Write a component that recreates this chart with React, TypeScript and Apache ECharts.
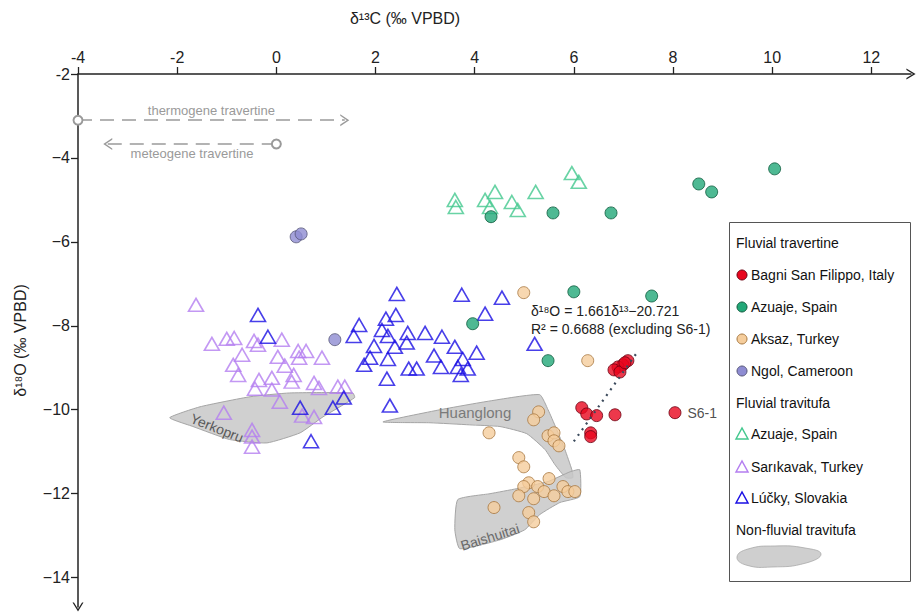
import React, { useEffect, useRef } from 'react';
import * as echarts from 'echarts';

const xTicks = [-4, -2, 0, 2, 4, 6, 8, 10, 12];
const yTicks = [-14, -12, -10, -8, -6, -4, -2];

// Fluvial travertine
const bagniSanFilippo = [
  [7.09, -8.83], [6.99, -8.93], [6.89, -8.98], [6.81, -9.05], [6.93, -9.1], [7.03, -8.88],
  [6.16, -9.95], [6.26, -10.1], [6.46, -10.14], [6.83, -10.12], [6.34, -10.55], [6.34, -10.64],
];
const bagniS61 = [8.04, -10.07];
const azuajeTravertine = [
  [4.33, -5.4], [5.58, -5.31], [6.75, -5.31], [8.52, -4.62], [8.78, -4.81], [10.05, -4.26],
  [6.0, -7.19], [7.57, -7.29], [3.96, -7.95], [5.48, -8.83],
];
const aksaz = [
  [4.99, -7.21], [6.28, -8.83], [5.29, -10.05], [5.19, -10.24], [4.29, -10.55], [5.48, -10.62],
  [5.6, -10.55], [5.6, -10.74], [5.7, -10.86], [4.89, -11.14], [4.99, -11.36], [5.5, -11.64],
  [5.09, -11.74], [4.99, -11.83], [4.89, -12.05], [5.27, -11.83], [5.4, -11.95], [5.19, -12.12],
  [5.6, -12.05], [5.78, -11.83], [5.88, -11.95], [6.02, -11.95], [4.39, -12.33], [5.09, -12.45],
  [5.19, -12.67],
];
const ngol = [[0.4, -5.88], [0.5, -5.81], [1.18, -8.33]];

// Fluvial travitufa
const azuajeTravitufa = [
  [3.6, -5.0], [3.62, -5.17], [4.21, -5.0], [4.41, -4.81], [4.31, -5.17], [4.75, -5.05],
  [4.87, -5.24], [5.23, -4.81], [5.96, -4.36], [6.1, -4.57],
];
const sarikavak = [
  [-1.62, -7.5], [-1.3, -8.43], [-1.0, -8.31], [-0.85, -8.29], [-0.45, -8.36], [-0.37, -8.45],
  [0.11, -8.33], [-0.69, -8.69], [-0.87, -8.93], [-0.77, -9.17], [0.03, -8.74], [0.17, -8.95],
  [0.44, -8.6], [0.6, -8.6], [0.46, -8.76], [0.92, -8.76], [0.35, -9.17], [-0.09, -9.24],
  [-0.35, -9.29], [-0.43, -9.5], [-0.09, -9.52], [0.31, -9.33], [0.76, -9.36], [0.86, -9.48],
  [1.24, -9.45], [1.38, -9.45], [0.07, -9.81], [0.52, -10.14], [0.76, -10.17], [-0.49, -10.48],
  [-0.49, -10.64], [-0.49, -10.88], [-1.06, -10.07],
];
const lucky = [
  [-0.37, -7.74], [-0.17, -8.26], [0.48, -9.95], [1.14, -9.95], [1.36, -9.71], [0.7, -10.75],
  [2.43, -7.24], [3.74, -7.26], [4.55, -7.33], [4.21, -7.71], [1.67, -7.98], [2.41, -7.74],
  [2.21, -7.83], [2.13, -8.1], [1.56, -8.24], [2.25, -8.24], [2.65, -8.17], [3.0, -8.17],
  [3.34, -8.26], [2.63, -8.4], [1.97, -8.48], [2.39, -8.5], [3.6, -8.5], [3.18, -8.71],
  [4.04, -8.64], [1.89, -8.76], [2.25, -8.79], [3.76, -8.79], [1.77, -8.93], [2.67, -9.02],
  [2.83, -9.02], [3.32, -8.98], [3.66, -8.98], [3.86, -9.02], [3.72, -9.17], [2.23, -9.26],
  [2.29, -9.9], [5.21, -8.43],
];

// Non-fluvial travitufa fields (outlines)
const yerkopru = [
  [-2.15, -10.19], [-1.54, -9.93], [-0.53, -9.69], [0.27, -9.6], [1.54, -9.6], [1.58, -9.71],
  [0.94, -10.17], [0.48, -10.55], [-0.19, -10.79], [-0.94, -10.71], [-1.68, -10.4],
];
const huanglong = [
  [2.15, -10.29], [3.3, -10.0], [4.31, -9.79], [5.31, -9.64], [5.48, -10.0], [5.64, -10.43],
  [5.82, -10.95], [5.96, -11.43], [5.98, -11.62], [5.84, -11.62], [5.62, -11.31], [5.42, -10.95],
  [5.05, -10.57], [4.51, -10.4], [3.9, -10.36], [3.1, -10.31],
];
const baishuitai = [
  [3.66, -12.14], [4.31, -12.0], [4.85, -11.88], [5.48, -11.71], [5.92, -11.48], [6.12, -11.43],
  [6.12, -12.07], [5.72, -12.21], [5.31, -12.5], [5.01, -12.86], [4.51, -13.1], [3.7, -13.31],
  [3.6, -12.86],
];
const fieldNames = ['Yerkopru', 'Huanglong', 'Baishuitai'];

// Regression (excluding S6-1)
const regSlope = 1.661;
const regIntercept = -20.721;
const regRange = [6.0, 7.3];

// Trend arrows
const thermogene = [[-4, -3.1], [1.38, -3.1]];
const meteogene = [[-3.4, -3.67], [0.0, -3.67]];

const RED = '#e8061e';
const GREEN = '#22a878';
const TAN = '#f5cd9c';
const NGOL = '#8e8cd2';
const GREEN_T = '#44c88f';
const VIOLET = '#b47ef0';
const BLUE = '#1a0fe4';

export default function App() {
  const ref = useRef<HTMLDivElement>(null);
  useEffect(() => {
    document.body.style.margin = '0';
    const chart = echarts.init(ref.current!, null, { renderer: 'svg' });
    const FONT = "'Liberation Sans', Arial, sans-serif";
    const NARROW = "'Liberation Sans Narrow', 'Liberation Sans', Arial, sans-serif";
    const polys = [yerkopru, huanglong, baishuitai];
    const chevron = 'path://M0,10 L6,0 L12,10 L10.4,10 L6,2.8 L1.6,10 Z';

    const circleSeries = (name: string, data: any[], color: string, border: string) => ({
      name,
      type: 'scatter',
      symbol: 'circle',
      symbolSize: 12,
      data,
      itemStyle: { color, borderColor: border, borderWidth: 1 },
      z: 4,
    });
    const triSeries = (name: string, data: number[][], color: string) => ({
      name,
      type: 'scatter',
      symbol: 'triangle',
      symbolSize: [15, 13],
      data,
      itemStyle: { color: 'rgba(0,0,0,0)', borderColor: color, borderWidth: 1.6 },
      z: 3,
    });

    // legend (drawn)
    const lx = 729;
    const legendRows: any[] = [
      { kind: 'head', text: 'Fluvial travertine', y: 243 },
      { kind: 'circle', text: 'Bagni San Filippo, Italy', y: 275, color: RED, border: '#6a0010' },
      { kind: 'circle', text: 'Azuaje, Spain', y: 307, color: GREEN, border: '#0d5a3c' },
      { kind: 'circle', text: 'Aksaz, Turkey', y: 339, color: TAN, border: '#a7773f' },
      { kind: 'circle', text: 'Ngol, Cameroon', y: 371, color: NGOL, border: '#555577' },
      { kind: 'head', text: 'Fluvial travitufa', y: 403 },
      { kind: 'tri', text: 'Azuaje, Spain', y: 434, color: GREEN_T },
      { kind: 'tri', text: 'Sarıkavak, Turkey', y: 467, color: VIOLET },
      { kind: 'tri', text: 'Lúčky, Slovakia', y: 498, color: BLUE },
      { kind: 'head', text: 'Non-fluvial travitufa', y: 530 },
    ];
    const legendEls: any[] = [
      {
        type: 'rect',
        shape: { x: lx + 0.5, y: 222.5, width: 181, height: 359 },
        style: { fill: '#fff', stroke: '#555', lineWidth: 1 },
        z: 10,
      },
    ];
    legendRows.forEach((r) => {
      if (r.kind === 'head') {
        legendEls.push({
          type: 'text', x: lx + 7, y: r.y, z: 11,
          style: { text: r.text, font: `14px ${FONT}`, fill: '#111', textVerticalAlign: 'middle' },
        });
        return;
      }
      if (r.kind === 'circle') {
        legendEls.push({
          type: 'circle', z: 11, shape: { cx: lx + 13, cy: r.y, r: 5 },
          style: { fill: r.color, stroke: r.border, lineWidth: 1 },
        });
      } else {
        legendEls.push({
          type: 'polygon', z: 11,
          shape: { points: [[lx + 7, r.y + 5], [lx + 13, r.y - 6], [lx + 19, r.y + 5]] },
          style: { fill: 'none', stroke: r.color, lineWidth: 1.5 },
        });
      }
      legendEls.push({
        type: 'text', x: lx + 22, y: r.y, z: 11,
        style: { text: r.text, font: `14px ${FONT}`, fill: '#111', textVerticalAlign: 'middle' },
      });
    });
    legendEls.push({
      type: 'polygon', z: 11,
      shape: {
        points: [[737, 557], [748, 549], [775, 546], [805, 548], [821, 554], [806, 563], [772, 567], [746, 565]],
        smooth: 0.5,
      },
      style: { fill: '#cfcfcf', stroke: '#aaa', lineWidth: 0.8 },
    });

    const option: any = {
      animation: false,
      backgroundColor: '#fff',
      textStyle: { fontFamily: FONT },
      grid: { left: 78, top: 74, right: 7, bottom: 6, containLabel: false },
      xAxis: {
        type: 'value',
        position: 'top',
        min: -4,
        max: 12.8,
        splitLine: { show: false },
        axisLine: {
          onZero: false,
          lineStyle: { color: '#222', width: 1.5 },
          symbol: ['none', chevron],
          symbolSize: [11, 11],
        },
        axisTick: { show: true, customValues: xTicks, length: 7, lineStyle: { color: '#222', width: 1.3 } },
        axisLabel: { customValues: xTicks, fontSize: 16, color: '#222', margin: 9, fontFamily: NARROW },
      },
      yAxis: {
        type: 'value',
        min: -14.7,
        max: -2,
        splitLine: { show: false },
        axisLine: {
          onZero: false,
          lineStyle: { color: '#222', width: 1.5 },
          symbol: [chevron, 'none'],
          symbolSize: [11, 11],
        },
        axisTick: { show: true, customValues: yTicks, length: 7, lineStyle: { color: '#222', width: 1.3 } },
        axisLabel: {
          customValues: yTicks,
          fontSize: 16,
          color: '#222',
          margin: 8,
          fontFamily: NARROW,
          formatter: (v: number) => (v === -2 ? '-2' : String(v).replace('-', '\u2212')),
        },
        name: 'δ¹⁸O (‰ VPBD)',
        nameLocation: 'middle',
        nameGap: 50,
        nameTextStyle: { fontSize: 16, color: '#222', fontFamily: NARROW },
      },
      graphic: [
        {
          type: 'text', x: 405, y: 18,
          style: { text: 'δ¹³C (‰ VPBD)', font: `16px ${NARROW}`, fill: '#222', textAlign: 'center', textVerticalAlign: 'middle' },
        },
        {
          type: 'text', x: 531, y: 311, z: 20,
          style: { text: 'δ¹⁸O = 1.661δ¹³\u221220.721', font: `14px ${FONT}`, fill: '#222', textVerticalAlign: 'middle' },
        },
        {
          type: 'text', x: 531, y: 329, z: 20,
          style: { text: 'R² = 0.6688 (excluding S6-1)', font: `14px ${FONT}`, fill: '#222', textVerticalAlign: 'middle' },
        },
        {
          type: 'text', x: 217, y: 428, rotation: -0.38, z: 20,
          style: { text: fieldNames[0], font: `14px ${FONT}`, fill: '#5a5a5a', textAlign: 'center', textVerticalAlign: 'middle' },
        },
        {
          type: 'text', x: 475, y: 412, z: 20,
          style: { text: fieldNames[1], font: `15px ${FONT}`, fill: '#7a7a7a', textAlign: 'center', textVerticalAlign: 'middle' },
        },
        {
          type: 'text', x: 490, y: 537, rotation: 0.3, z: 20,
          style: { text: fieldNames[2], font: `14px ${FONT}`, fill: '#6a6a6a', textAlign: 'center', textVerticalAlign: 'middle' },
        },
        ...legendEls,
      ],
      series: [
        {
          type: 'custom',
          name: 'fields',
          silent: true,
          z: 1,
          data: polys.map((p) => p[0]),
          renderItem: (params: any, api: any) => {
            const pts = polys[params.dataIndex].map((p) => api.coord(p));
            return {
              type: 'polygon',
              shape: { points: pts, smooth: 0.15 },
              style: { fill: 'rgba(200,200,200,0.85)', stroke: '#a5a5a5', lineWidth: 1 },
            };
          },
        },
        {
          type: 'line',
          name: 'annotations',
          data: [],
          silent: true,
          z: 2,
          markLine: {
            silent: true,
            animation: false,
            data: [
              [
                { coord: thermogene[0], symbol: 'emptyCircle', symbolSize: 9 },
                {
                  coord: thermogene[1], symbol: chevron, symbolSize: [12, 9],
                },
              ].map((d, i) =>
                i === 0
                  ? {
                      ...d,
                      lineStyle: { color: '#9a9a9a', type: [14, 8], width: 1.5 },
                      label: {
                        show: true, position: 'insideMiddleTop', formatter: 'thermogene travertine',
                        color: '#9a9a9a', fontSize: 13, distance: 3,
                      },
                    }
                  : d
              ),
              [
                { coord: meteogene[0], symbol: chevron, symbolSize: [12, 9] },
                { coord: meteogene[1], symbol: 'emptyCircle', symbolSize: 9 },
              ].map((d, i) =>
                i === 0
                  ? {
                      ...d,
                      lineStyle: { color: '#9a9a9a', type: [14, 8], width: 1.5 },
                      label: {
                        show: true, position: 'insideMiddleBottom', formatter: 'meteogene travertine',
                        color: '#9a9a9a', fontSize: 13, distance: 3,
                      },
                    }
                  : d
              ),
              [
                {
                  coord: [regRange[0], regSlope * regRange[0] + regIntercept],
                  symbol: 'none',
                  lineStyle: { color: '#3b4a5c', type: [2, 5], width: 2.2 },
                  label: { show: false },
                },
                { coord: [regRange[1], regSlope * regRange[1] + regIntercept], symbol: 'none' },
              ],
            ],
          },
        },
        triSeries('Azuaje, Spain (travitufa)', azuajeTravitufa, GREEN_T),
        triSeries('Sarıkavak, Turkey', sarikavak, VIOLET),
        triSeries('Lúčky, Slovakia', lucky, BLUE),
        circleSeries('Ngol, Cameroon', ngol, NGOL, '#555577'),
        circleSeries('Azuaje, Spain', azuajeTravertine, GREEN, '#0d5a3c'),
        circleSeries('Aksaz, Turkey', aksaz, TAN, '#a7773f'),
        circleSeries(
          'Bagni San Filippo, Italy',
          [
            ...bagniSanFilippo,
            {
              value: bagniS61,
              label: { show: true, position: 'right', formatter: 'S6-1', fontSize: 14, color: '#222', distance: 6 },
            },
          ],
          RED,
          '#6a0010'
        ),
      ],
    };
    chart.setOption(option);
    return () => chart.dispose();
  }, []);
  return <div ref={ref} style={{ width: 918, height: 613 }} />;
}
